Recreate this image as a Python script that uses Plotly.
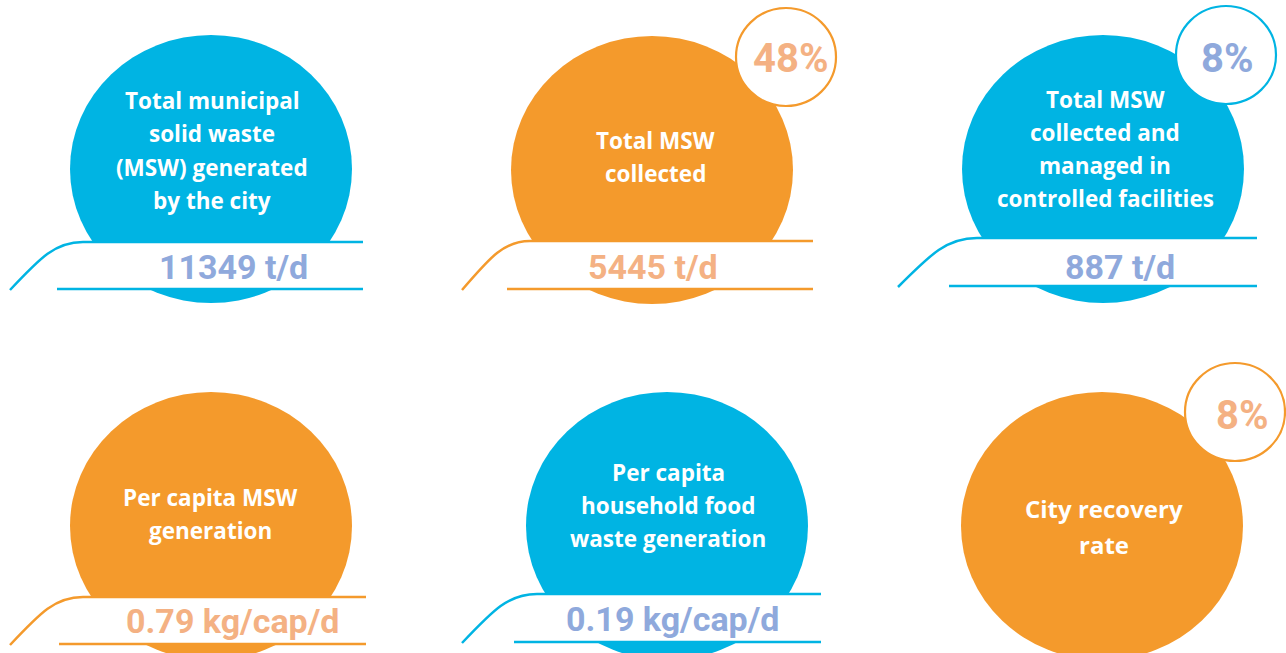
import plotly.graph_objects as go

# ---------------- data ----------------
titles = [
    ["Total municipal", "solid waste", "(MSW) generated", "by the city"],
    ["Total MSW", "collected"],
    ["Total MSW", "collected and", "managed in", "controlled facilities"],
    ["Per capita MSW", "generation"],
    ["Per capita", "household food", "waste generation"],
    ["City recovery", "rate"],
]
values = [11349, 5445, 887, 0.79, 0.19, None]
units = ["t/d", "t/d", "t/d", "kg/cap/d", "kg/cap/d", ""]
badge_pct = [None, 48, 8, None, None, 8]
themes = ["blue", "orange", "blue", "orange", "blue", "orange"]

# ---------------- layout / style (pixel space) ----------------
W, H = 1286, 653
circle_c = [(211, 169), (652, 170), (1103, 169), (211, 526), (667, 526), (1102, 526)]
RX, RY = 141, 134
title_pos = [(212, 100, 33.5), (655, 140, 33.5), (1105, 99, 33.3),
             (210, 497, 33), (668, 472, 33), (1104, 508, 36)]
title_size = [22.5, 22.5, 22.5, 22.5, 22.5, 24]
# ribbon: curve start x, bottom y, curve end x, top y, right x, bottom-line start x
ribbons = [(10, 290, 83, 242, 363, 57), (462, 290, 530, 241, 813, 507),
           (898, 287, 977, 238, 1257, 949), (10, 645, 83, 597, 366, 59),
           (462, 643, 537, 594, 821, 514), None]
value_pos = [(233, 267), (653, 267), (1120, 267), (233, 621), (673, 619), None]
badge_c = [None, (786, 57), (1226, 55), None, None, (1235, 412)]
badge_txt = [None, (790, 58), (1227, 58), None, None, (1242, 415)]
BR = 50

main_col = {"blue": "#00B4E3", "orange": "#F49A2C"}
value_col = {"blue": "#8FA9DC", "orange": "#F4B183"}

fig = go.Figure()
fig.add_trace(go.Scatter(x=[0, W], y=[0, H], mode="markers",
                         marker=dict(opacity=0), hoverinfo="skip", showlegend=False))

shapes, annotations = [], []

for i in range(6):
    th = themes[i]
    cx, cy = circle_c[i]
    shapes.append(dict(type="circle", xref="x", yref="y",
                       x0=cx - RX, x1=cx + RX, y0=cy - RY, y1=cy + RY,
                       fillcolor=main_col[th], line=dict(width=0), layer="above"))
    rb = ribbons[i]
    if rb is not None:
        xs, yb, xe, yt, xr, xbl = rb
        c1 = (xs + 0.42 * (xe - xs), yb - 0.68 * (yb - yt))
        c2 = (xs + 0.62 * (xe - xs), yt)
        curve = f"M {xs},{yb} C {c1[0]},{c1[1]} {c2[0]},{c2[1]} {xe},{yt}"
        shapes.append(dict(type="path", xref="x", yref="y",
                           path=curve + f" L {xr},{yt} L {xr},{yb - 1} Z",
                           fillcolor="white", line=dict(width=0), layer="above"))
        shapes.append(dict(type="path", xref="x", yref="y",
                           path=curve + f" L {xr},{yt}",
                           line=dict(color=main_col[th], width=2.5), layer="above"))
        shapes.append(dict(type="line", xref="x", yref="y",
                           x0=xbl, x1=xr, y0=yb - 1, y1=yb - 1,
                           line=dict(color=main_col[th], width=2.5), layer="above"))
        vx, vy = value_pos[i]
        v = values[i]
        vtxt = f"{v:g} {units[i]}"
        annotations.append(dict(x=vx, y=vy, xref="x", yref="y", text=vtxt,
                                showarrow=False, xanchor="center", yanchor="middle",
                                font=dict(family="Roboto", size=34, weight="bold",
                                          color=value_col[th])))
    if badge_pct[i] is not None:
        bx, by = badge_c[i]
        shapes.append(dict(type="circle", xref="x", yref="y",
                           x0=bx - BR, x1=bx + BR, y0=by - BR + 1, y1=by + BR - 1,
                           fillcolor="white", line=dict(color=main_col[th], width=2.2),
                           layer="above"))
        tx, ty = badge_txt[i]
        annotations.append(dict(x=tx, y=ty, xref="x", yref="y", text=f"{badge_pct[i]}%",
                                showarrow=False, xanchor="center", yanchor="middle",
                                font=dict(family="Roboto", size=40, weight="bold",
                                          color=value_col[th])))
    tx, ty0, dy = title_pos[i]
    for k, line in enumerate(titles[i]):
        annotations.append(dict(x=tx, y=ty0 + k * dy, xref="x", yref="y", text=line,
                                showarrow=False, xanchor="center", yanchor="middle",
                                font=dict(family="Open Sans", size=title_size[i],
                                          weight="bold", color="white")))

fig.update_layout(
    width=W, height=H, margin=dict(l=0, r=0, t=0, b=0),
    paper_bgcolor="white", plot_bgcolor="white",
    xaxis=dict(range=[0, W], visible=False, fixedrange=True),
    yaxis=dict(range=[H, 0], visible=False, fixedrange=True),
    shapes=shapes, annotations=annotations, showlegend=False,
)
fig.write_html("out.html", config={"displayModeBar": False},
               post_script="document.body.style.margin='0';document.body.style.overflow='hidden';")
